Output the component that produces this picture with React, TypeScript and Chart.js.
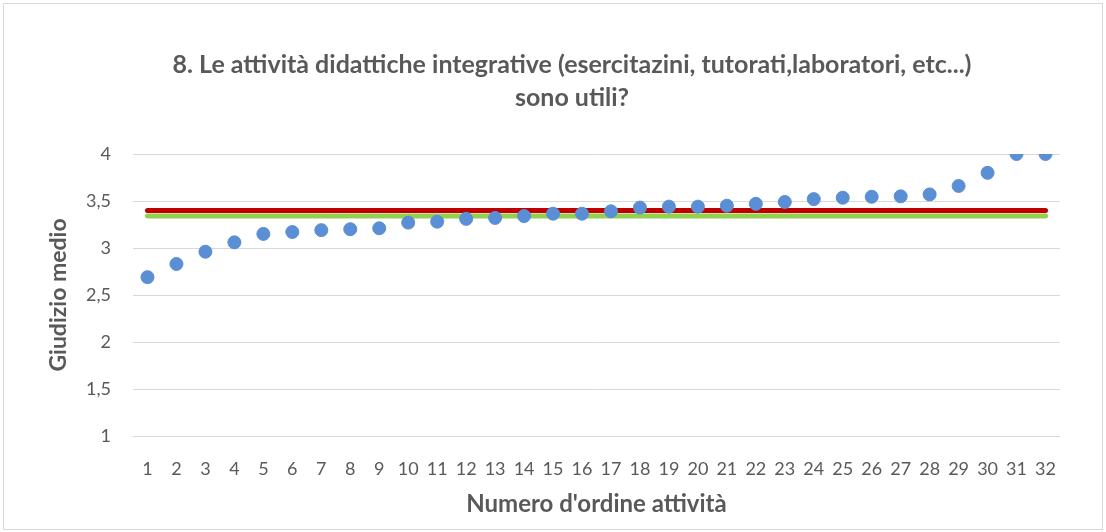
import React, { useEffect, useRef } from "react";
import { Chart, registerables } from "chart.js";

Chart.register(...registerables);

const titleLines = [
  "8. Le attività didattiche integrative (esercitazini, tutorati,laboratori, etc...)",
  "sono utili?",
];
const xAxisTitle = "Numero d'ordine attività";
const yAxisTitle = "Giudizio medio";

const categories = [
  "1", "2", "3", "4", "5", "6", "7", "8", "9", "10", "11", "12", "13", "14", "15", "16",
  "17", "18", "19", "20", "21", "22", "23", "24", "25", "26", "27", "28", "29", "30", "31", "32",
];

const giudizioMedio = [
  2.69, 2.83, 2.96, 3.06, 3.15, 3.17, 3.19, 3.2, 3.21, 3.27, 3.28, 3.31, 3.32, 3.34, 3.365, 3.365,
  3.39, 3.43, 3.44, 3.44, 3.45, 3.47, 3.49, 3.52, 3.535, 3.545, 3.55, 3.57, 3.66, 3.8, 4.0, 4.0,
];

const mediaRossa = [
  3.4, 3.4, 3.4, 3.4, 3.4, 3.4, 3.4, 3.4, 3.4, 3.4, 3.4, 3.4, 3.4, 3.4, 3.4, 3.4,
  3.4, 3.4, 3.4, 3.4, 3.4, 3.4, 3.4, 3.4, 3.4, 3.4, 3.4, 3.4, 3.4, 3.4, 3.4, 3.4,
];

const mediaVerde = [
  3.34, 3.34, 3.34, 3.34, 3.34, 3.34, 3.34, 3.34, 3.34, 3.34, 3.34, 3.34, 3.34, 3.34, 3.34, 3.34,
  3.34, 3.34, 3.34, 3.34, 3.34, 3.34, 3.34, 3.34, 3.34, 3.34, 3.34, 3.34, 3.34, 3.34, 3.34, 3.34,
];

const yMin = 1;
const yMax = 4;
const yStep = 0.5;

const FONT = "Lato, 'Open Sans', sans-serif";
const TEXT = "#595959";
const GRID = "#d9d9d9";

const framePlugin = {
  id: "frameAndTitle",
  beforeDraw(chart: any) {
    const ctx = chart.ctx;
    ctx.save();
    ctx.fillStyle = "#ffffff";
    ctx.fillRect(0, 0, chart.width, chart.height);
    ctx.strokeStyle = GRID;
    ctx.lineWidth = 1;
    ctx.strokeRect(3.5, 3.5, chart.width - 7, chart.height - 6);
    ctx.restore();
  },
  afterDraw(chart: any) {
    const ctx = chart.ctx;
    ctx.save();
    ctx.font = `bold 25px ${FONT}`;
    ctx.fillStyle = TEXT;
    ctx.textAlign = "center";
    ctx.textBaseline = "alphabetic";
    ctx.fillText(titleLines[0], 572, 73);
    ctx.fillText(titleLines[1], 572, 106);
    ctx.restore();
  },
};

export default function App() {
  const ref = useRef<HTMLCanvasElement | null>(null);

  useEffect(() => {
    if (!ref.current) return;
    const chart = new Chart(ref.current, {
      type: "line",
      data: {
        labels: categories,
        datasets: [
          {
            label: "Giudizio medio",
            data: giudizioMedio,
            showLine: false,
            pointRadius: 6.5,
            pointHoverRadius: 6.5,
            pointBackgroundColor: "#5A8FD5",
            pointBorderColor: "#5A8FD5",
            pointBorderWidth: 1,
            borderColor: "#5A8FD5",
            backgroundColor: "#5A8FD5",
          },
          {
            label: "Media rossa",
            data: mediaRossa,
            borderColor: "#C00000",
            borderWidth: 5,
            borderCapStyle: "round",
            pointRadius: 0,
            fill: false,
          },
          {
            label: "Media verde",
            data: mediaVerde,
            borderColor: "#92D050",
            borderWidth: 5,
            borderCapStyle: "round",
            pointRadius: 0,
            fill: false,
          },
        ],
      },
      options: {
        responsive: false,
        animation: false,
        events: [],
        layout: { padding: { left: 0, right: 46, top: 154, bottom: 0 } },
        plugins: {
          legend: { display: false },
          title: { display: false },
          tooltip: { enabled: false },
        },
        scales: {
          x: {
            type: "category",
            offset: true,
            grid: { display: false, drawTicks: false },
            border: { display: false },
            ticks: {
              color: TEXT,
              font: { family: FONT, size: 18 },
              padding: 22,
              maxRotation: 0,
              autoSkip: false,
            },
            title: {
              display: true,
              text: xAxisTitle,
              color: TEXT,
              font: { family: FONT, size: 24, weight: "bold" },
              padding: { top: 0, bottom: 13 },
            },
            afterFit(scale: any) {
              scale.height = 96;
            },
          },
          y: {
            min: yMin,
            max: yMax,
            grid: { color: GRID, lineWidth: 1, drawTicks: false },
            border: { display: false },
            ticks: {
              stepSize: yStep,
              color: TEXT,
              font: { family: FONT, size: 18 },
              padding: 22,
              callback: (v: any) => String(v).replace(".", ","),
            },
            title: {
              display: true,
              text: yAxisTitle,
              color: TEXT,
              font: { family: FONT, size: 23, weight: "bold" },
              padding: { top: 45, bottom: 0 },
            },
            afterFit(scale: any) {
              scale.width = 133;
            },
          },
        },
      },
      plugins: [framePlugin],
    });
    return () => chart.destroy();
  }, []);

  return (
    <div style={{ position: "fixed", left: 0, top: 0, width: 1106, height: 532 }}>
      <canvas ref={ref} width={1106} height={532} />
    </div>
  );
}
